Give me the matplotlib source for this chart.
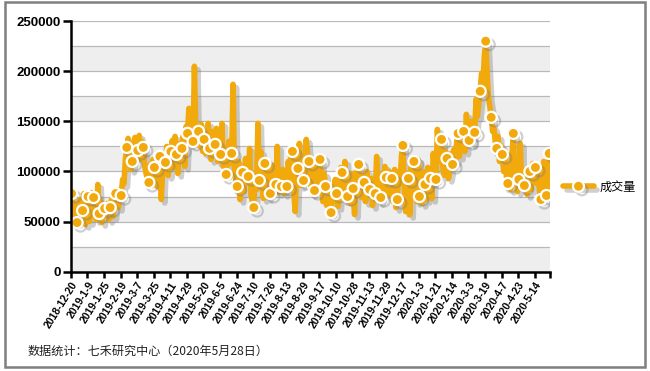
import numpy as np
import matplotlib
matplotlib.use("Agg")
import matplotlib.pyplot as plt
import matplotlib.patheffects as pe
from matplotlib.patches import Rectangle

# daily volume, thousands (trading days 2018-12-20 .. 2020-5-28)
volume_k = [
    78, 70, 55, 62, 49, 66, 72, 52, 61, 78, 47, 68,
    75, 50, 79, 56, 74, 61, 52, 87, 58, 70, 49, 65,
    63, 56, 68, 52, 64, 72, 55, 66, 78, 80, 64, 82,
    76, 92, 88, 112, 124, 133, 118, 102, 110, 128, 134, 115,
    121, 136, 112, 130, 124, 105, 98, 92, 89, 107, 96, 112,
    104, 88, 85, 94, 115, 72, 100, 118, 109, 125, 96, 112,
    120, 131, 104, 135, 117, 98, 128, 110, 123, 136, 105, 145,
    138, 163, 128, 150, 130, 205, 142, 135, 140, 125, 147, 120,
    132, 118, 138, 148, 123, 112, 140, 128, 127, 143, 110, 122,
    117, 148, 105, 120, 97, 112, 130, 108, 118, 187, 102, 90,
    85, 110, 72, 95, 99, 80, 113, 88, 95, 123, 76, 70,
    64, 98, 82, 148, 91, 120, 84, 73, 108, 95, 74, 100,
    78, 92, 106, 80, 87, 125, 79, 96, 85, 102, 78, 95,
    85, 110, 94, 122, 120, 78, 60, 98, 103, 128, 86, 110,
    91, 105, 132, 117, 110, 96, 78, 105, 81, 95, 113, 90,
    112, 88, 70, 98, 85, 66, 80, 62, 59, 84, 70, 92,
    78, 65, 88, 104, 99, 72, 110, 80, 75, 90, 68, 98,
    83, 57, 95, 102, 107, 85, 74, 96, 89, 70, 100, 78,
    82, 93, 66, 88, 78, 115, 80, 70, 74, 98, 82, 105,
    94, 76, 100, 85, 93, 70, 102, 64, 72, 100, 88, 116,
    126, 85, 60, 98, 93, 57, 104, 88, 110, 96, 70, 112,
    75, 90, 68, 100, 87, 72, 104, 95, 93, 73, 118, 100,
    92, 142, 120, 110, 132, 104, 96, 120, 113, 93, 100, 118,
    107, 122, 110, 130, 138, 115, 142, 125, 140, 120, 157, 135,
    131, 150, 128, 145, 139, 172, 155, 168, 180, 198, 185, 215,
    230, 200, 173, 165, 154, 140, 143, 128, 123, 135, 110, 126,
    117, 100, 120, 95, 88, 105, 82, 115, 138, 95, 110, 80,
    92, 128, 86, 100, 86, 102, 77, 95, 100, 82, 108, 96,
    104, 88, 98, 80, 72, 95, 110, 85, 76, 90, 118,
]

date_labels = [
    "2018-12-20", "2019-1-9", "2019-1-25", "2019-2-19", "2019-3-7",
    "2019-3-25", "2019-4-11", "2019-4-29", "2019-5-20", "2019-6-5",
    "2019-6-24", "2019-7-10", "2019-7-26", "2019-8-13", "2019-8-29",
    "2019-9-17", "2019-10-10", "2019-10-28", "2019-11-13", "2019-11-29",
    "2019-12-17", "2020-1-3", "2020-1-21", "2020-2-14", "2020-3-3",
    "2020-3-19", "2020-4-7", "2020-4-23", "2020-5-14",
]
label_step = 12
series_name = "成交量"
source_note = "数据统计：七禾研究中心（2020年5月28日）"

orange = "#F2A90C"
volume = np.array(volume_k) * 1000
n = len(volume)
x = np.arange(n)

fig = plt.figure(figsize=(6.5, 3.71), dpi=100)
ax = fig.add_axes([0.109, 0.2677, 0.737, 0.6753])

# banded background
for lo in range(0, 250000, 50000):
    ax.axhspan(lo, lo + 25000, color="#eeeeee", zorder=0, lw=0)
for g in range(25000, 250001, 25000):
    ax.axhline(g, color="#b9b9b9", lw=0.9, zorder=1)

marks = list(range(0, n, 4))
if marks[-1] != n - 1:
    marks.append(n - 1)

line, = ax.plot(x, volume, color=orange, lw=4, solid_joinstyle="round",
                solid_capstyle="round",
                marker="o", markevery=marks, markersize=8,
                markerfacecolor=orange, markeredgecolor="white",
                markeredgewidth=1.6, zorder=3, label=series_name)
line.set_path_effects([pe.SimpleLineShadow(offset=(2.5, -2.5), shadow_color="#777777", alpha=0.35),
                       pe.Normal()])

ax.set_xlim(-0.5, n - 0.5)
ax.set_ylim(0, 250000)
ax.set_yticks(range(0, 250001, 50000))
ax.set_yticklabels([str(v) for v in range(0, 250001, 50000)],
                   fontsize=9.5, fontweight="bold", family="Liberation Sans")

tick_pos = [i * label_step - 0.5 for i in range(len(date_labels))] + [n - 0.5]
ax.set_xticks(tick_pos)
ax.set_xticklabels(date_labels + [""], rotation=58, ha="right", va="top",
                   rotation_mode="anchor", fontsize=7.5, fontweight="bold",
                   family="Liberation Sans")

for s in ["top", "right"]:
    ax.spines[s].set_visible(False)
for s in ["left", "bottom"]:
    ax.spines[s].set_linewidth(1.8)
    ax.spines[s].set_color("black")
    ax.spines[s].set_zorder(5)
ax.tick_params(axis="y", length=5.5, width=1.8, pad=2)
ax.tick_params(axis="x", length=4, width=1.8, pad=2)

fig.legend(handles=[line], loc="center left", bbox_to_anchor=(0.85, 0.496),
           frameon=False, handlelength=2.5, handletextpad=0.5,
           prop={"family": ["Noto Sans CJK SC", "DejaVu Sans"], "size": 8.7})

fig.text(0.042, 0.045, source_note, fontsize=8.7,
         family=["Noto Sans CJK SC", "DejaVu Sans"], color="#222222")

fig.patches.append(Rectangle((0.0077, 0.011), 0.985, 0.983, transform=fig.transFigure,
                             fill=False, edgecolor="#7f7f7f", lw=1.8))

fig.savefig("out.png", dpi=100)
